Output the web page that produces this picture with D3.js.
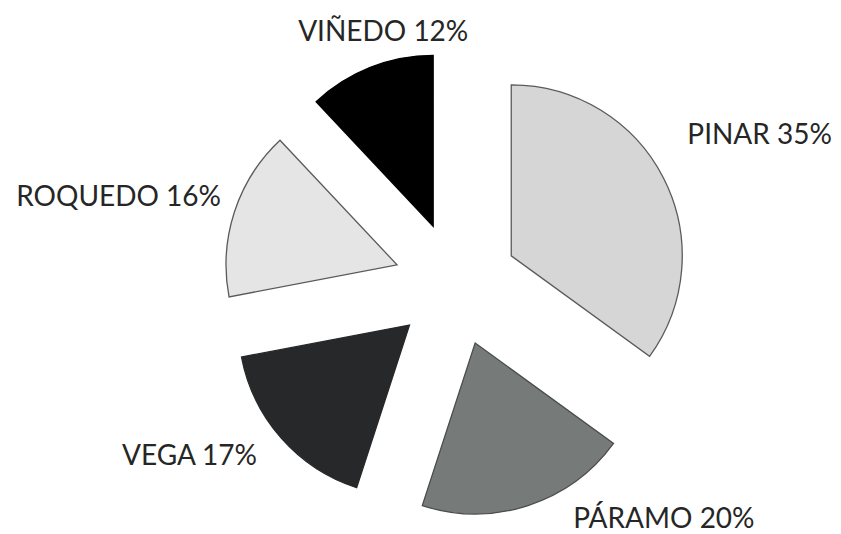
<!DOCTYPE html>
<html>
<head>
<meta charset="utf-8">
<script src="https://cdn.jsdelivr.net/npm/d3@7"></script>
<style>
  html, body { margin: 0; padding: 0; background: #fff; }
  svg { display: block; }
  .label { font-family: Lato, "Open Sans", sans-serif; font-size: 28px; fill: #262626; }
</style>
</head>
<body>
<svg id="chart" width="841" height="534"></svg>
<script>
// Land-use shares, clockwise from 12 o'clock
const categories = ["PINAR", "PÁRAMO", "VEGA", "ROQUEDO", "VIÑEDO"];
const shares = [35, 20, 17, 16, 12];

// Slice styling
const fills = ["#d6d6d6", "#767b7a", "#26282a", "#e5e5e5", "#000000"];
const strokes = ["#5a5a5a", "#4a4d4d", "#26282a", "#5a5a5a", "#000000"];

// Label placement: angle (degrees clockwise from top) and distance from the pie centre
const labelAngles = [63.6, 138.3, 237.5, 284.8, 344.0];
const labelDists = [339, 312.5, 316, 349, 264];

const width = 841, height = 534;
const cx = 456, cy = 284;
const radius = 171;
const explode = 62;

const svg = d3.select("#chart");
const g = svg.append("g").attr("transform", `translate(${cx},${cy})`);

const data = categories.map((c, i) => ({ name: c, value: shares[i], i }));

const pie = d3.pie().sort(null).value(d => d.value);
const arc = d3.arc().innerRadius(0).outerRadius(radius);
const arcs = pie(data);

// Exploded slices: each one pushed outward along its mid-angle
g.selectAll("path.slice")
  .data(arcs)
  .join("path")
  .attr("class", "slice")
  .attr("transform", d => {
    const mid = (d.startAngle + d.endAngle) / 2;
    return `translate(${explode * Math.sin(mid)},${-explode * Math.cos(mid)})`;
  })
  .attr("d", arc)
  .attr("fill", d => fills[d.data.i])
  .attr("stroke", d => strokes[d.data.i])
  .attr("stroke-width", 1.3)
  .attr("stroke-linejoin", "miter");

// Category labels with their percentage
g.selectAll("text.label")
  .data(arcs)
  .join("text")
  .attr("class", "label")
  .attr("text-anchor", "middle")
  .attr("dominant-baseline", "central")
  .attr("x", d => labelDists[d.data.i] * Math.sin(labelAngles[d.data.i] * Math.PI / 180))
  .attr("y", d => -labelDists[d.data.i] * Math.cos(labelAngles[d.data.i] * Math.PI / 180))
  .text(d => `${d.data.name} ${d.data.value}%`);
</script>
</body>
</html>
